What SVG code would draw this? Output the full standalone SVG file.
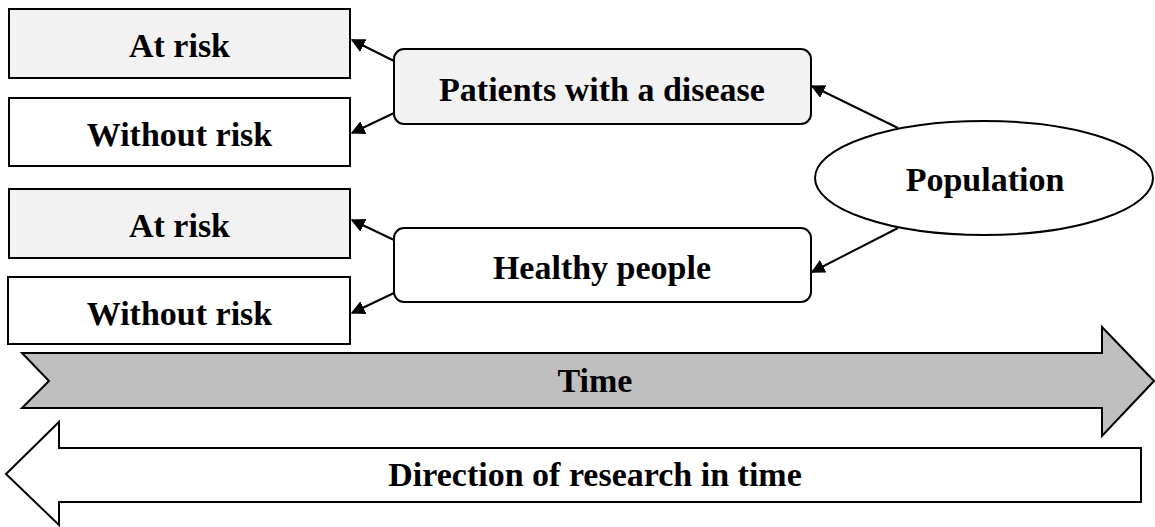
<svg xmlns="http://www.w3.org/2000/svg" width="1155" height="527" viewBox="0 0 1155 527">
  <style>
    .box { stroke: #000; stroke-width: 2; }
    .grey { fill: #f2f2f2; }
    .white { fill: #fff; }
    .lbl { font-family: "Liberation Serif", "Times New Roman", serif; font-weight: bold; font-size: 34px; fill: #000; text-anchor: middle; }
    .edge { stroke: #000; stroke-width: 2; fill: none; marker-end: url(#head); }
  </style>
  <defs>
    <marker id="head" viewBox="0 0 10 10" refX="9" refY="5" markerWidth="7" markerHeight="7" markerUnits="strokeWidth" orient="auto">
      <path d="M0,0 L10,5 L0,10 Z" fill="#000"/>
    </marker>
  </defs>
  <rect width="1155" height="527" fill="#fff"/>

  <!-- time axis arrows -->
  <g id="time">
    <polygon class="box" points="22,353 1102,353 1102,327 1154,381 1102,436 1102,408 22,408 49,381" fill="#bfbfbf"/>
    <text class="lbl" x="595" y="392">Time</text>
  </g>
  <g id="research-direction">
    <polygon class="box white" points="1141,448 59,448 59,422 6,474 59,525 59,502 1141,502"/>
    <text class="lbl" x="595" y="486">Direction of research in time</text>
  </g>

  <!-- connectors -->
  <g id="connectors">
    <line class="edge" x1="394" y1="61" x2="352" y2="40"/>
    <line class="edge" x1="394" y1="113" x2="352" y2="133"/>
    <line class="edge" x1="394" y1="240" x2="352" y2="220"/>
    <line class="edge" x1="394" y1="293" x2="352" y2="313"/>
    <line class="edge" x1="898" y1="128" x2="812" y2="86"/>
    <line class="edge" x1="898" y1="228" x2="812" y2="272"/>
  </g>

  <!-- nodes -->
  <g id="at-risk-1">
    <rect class="box grey" x="9" y="9" width="341" height="69"/>
    <text class="lbl" x="179.5" y="57">At risk</text>
  </g>
  <g id="without-risk-1">
    <rect class="box white" x="9" y="98" width="341" height="68"/>
    <text class="lbl" x="179.5" y="146">Without risk</text>
  </g>
  <g id="at-risk-2">
    <rect class="box grey" x="9" y="189" width="341" height="69"/>
    <text class="lbl" x="179.5" y="237">At risk</text>
  </g>
  <g id="without-risk-2">
    <rect class="box white" x="8" y="277" width="342" height="67"/>
    <text class="lbl" x="179.5" y="325">Without risk</text>
  </g>
  <g id="patients">
    <rect class="box grey" x="394" y="49" width="417" height="75" rx="10"/>
    <text class="lbl" x="602" y="101">Patients with a disease</text>
  </g>
  <g id="healthy">
    <rect class="box white" x="394" y="228" width="417" height="74" rx="10"/>
    <text class="lbl" x="602" y="279">Healthy people</text>
  </g>
  <g id="population">
    <ellipse class="box white" cx="984" cy="178" rx="169" ry="57"/>
    <text class="lbl" x="985" y="191">Population</text>
  </g>
</svg>
